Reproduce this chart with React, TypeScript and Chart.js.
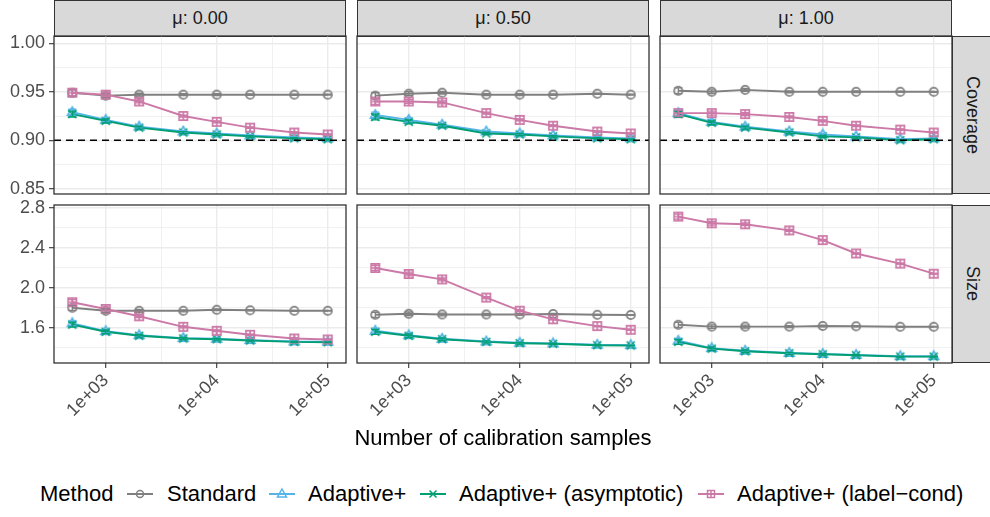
import React, { useEffect, useRef } from 'react';
import { Chart, registerables } from 'chart.js';

Chart.register(...registerables);

// ---------------- data ----------------
const N_CALIB = [500, 1000, 2000, 5000, 10000, 20000, 50000, 100000];
const MU_LABELS = ['μ: 0.00', 'μ: 0.50', 'μ: 1.00'];
const METRIC_LABELS = ['Coverage', 'Size'];
const METHOD_NAMES = ['Standard', 'Adaptive+', 'Adaptive+ (asymptotic)', 'Adaptive+ (label−cond)'];
const LEGEND_TITLE = 'Method';
const X_TITLE = 'Number of calibration samples';

// coverage: one row per mu (0.00, 0.50, 1.00)
const COV_STANDARD = [
  [0.949, 0.946, 0.947, 0.947, 0.947, 0.947, 0.947, 0.947],
  [0.946, 0.948, 0.949, 0.947, 0.947, 0.947, 0.948, 0.947],
  [0.951, 0.950, 0.952, 0.950, 0.950, 0.950, 0.950, 0.950],
];
const COV_ADAPTIVE = [
  [0.929, 0.921, 0.914, 0.909, 0.907, 0.905, 0.903, 0.902],
  [0.926, 0.921, 0.916, 0.909, 0.907, 0.905, 0.903, 0.902],
  [0.928, 0.919, 0.914, 0.909, 0.906, 0.904, 0.901, 0.902],
];
const COV_ASYMPTOTIC = [
  [0.927, 0.920, 0.913, 0.908, 0.906, 0.904, 0.902, 0.901],
  [0.924, 0.919, 0.915, 0.907, 0.906, 0.904, 0.902, 0.901],
  [0.927, 0.918, 0.913, 0.908, 0.904, 0.903, 0.900, 0.901],
];
const COV_LABELCOND = [
  [0.949, 0.947, 0.940, 0.925, 0.919, 0.913, 0.908, 0.906],
  [0.940, 0.940, 0.939, 0.928, 0.921, 0.915, 0.909, 0.907],
  [0.928, 0.928, 0.927, 0.924, 0.920, 0.915, 0.911, 0.908],
];
const COV_ERR = [0.003, 0.002, 0.0015, 0.001, 0.001, 0.0008, 0.0006, 0.0005];

// size: one row per mu
const SIZE_STANDARD = [
  [1.80, 1.77, 1.77, 1.77, 1.78, 1.775, 1.77, 1.77],
  [1.73, 1.74, 1.733, 1.733, 1.733, 1.738, 1.73, 1.728],
  [1.63, 1.612, 1.612, 1.612, 1.618, 1.615, 1.61, 1.61],
];
const SIZE_ADAPTIVE = [
  [1.645, 1.566, 1.526, 1.497, 1.49, 1.477, 1.463, 1.46],
  [1.57, 1.525, 1.49, 1.463, 1.45, 1.444, 1.43, 1.427],
  [1.47, 1.397, 1.37, 1.349, 1.339, 1.329, 1.316, 1.316],
];
const SIZE_ASYMPTOTIC = [
  [1.632, 1.56, 1.52, 1.493, 1.486, 1.473, 1.459, 1.456],
  [1.56, 1.52, 1.486, 1.459, 1.446, 1.44, 1.426, 1.423],
  [1.459, 1.392, 1.365, 1.345, 1.335, 1.325, 1.312, 1.312],
];
const SIZE_LABELCOND = [
  [1.856, 1.788, 1.715, 1.61, 1.57, 1.53, 1.493, 1.483],
  [2.198, 2.138, 2.084, 1.902, 1.771, 1.685, 1.617, 1.58],
  [2.712, 2.645, 2.635, 2.574, 2.477, 2.343, 2.242, 2.141],
];
const SIZE_ERR = [0.025, 0.018, 0.014, 0.01, 0.008, 0.006, 0.005, 0.004];

const COVERAGE_TARGET = 0.9;

// axes
const X_RANGE = [342, 146200];
const X_TICKS = [1000, 10000, 100000];
const X_TICK_LABELS = ['1e+03', '1e+04', '1e+05'];
const X_MINOR = [3162.28, 31622.8];

const COV_RANGE = [0.8446, 1.0075];
const COV_TICKS = [0.85, 0.9, 0.95, 1.0];
const COV_TICK_LABELS = ['0.85', '0.90', '0.95', '1.00'];
const COV_MINOR = [0.875, 0.925, 0.975];

const SIZE_RANGE = [1.248, 2.828];
const SIZE_TICKS = [1.6, 2.0, 2.4, 2.8];
const SIZE_TICK_LABELS = ['1.6', '2.0', '2.4', '2.8'];
const SIZE_MINOR = [1.4, 1.8, 2.2, 2.6];

// ---------------- styles ----------------
const FONT = "'Liberation Sans', Arial, Helvetica, sans-serif";
const METHOD_COLORS = ['#808080', '#56B4E9', '#009E73', '#CC79A7'];
const METHOD_SHAPES = ['circle', 'triangle', 'x', 'squareplus'];
const PANEL_LEFT = [54, 357, 660];
const PANEL_W = 292;
const PANEL_TOP = [36, 205];
const PANEL_H = 158;
const RIGHT_STRIP_LEFT = 952;
const CAP_FACTOR = 1.09;
const TICK_FONT_SIZE = 18;
const STRIP_FONT_SIZE = 18;
const TITLE_FONT_SIZE = 22;

function makeMarker(shape: string, color: string): HTMLCanvasElement {
  const s = 14;
  const c = document.createElement('canvas');
  c.width = s;
  c.height = s;
  const g = c.getContext('2d')!;
  g.strokeStyle = color;
  g.lineWidth = 1.7;
  const m = s / 2;
  g.beginPath();
  if (shape === 'circle') {
    g.arc(m, m, 4.2, 0, Math.PI * 2);
  } else if (shape === 'triangle') {
    g.moveTo(m, m - 5);
    g.lineTo(m + 4.8, m + 3.2);
    g.lineTo(m - 4.8, m + 3.2);
    g.closePath();
  } else if (shape === 'x') {
    g.moveTo(m - 4, m - 4);
    g.lineTo(m + 4, m + 4);
    g.moveTo(m + 4, m - 4);
    g.lineTo(m - 4, m + 4);
  } else {
    g.rect(m - 4.2, m - 4.2, 8.4, 8.4);
    g.moveTo(m, m - 4.2);
    g.lineTo(m, m + 4.2);
    g.moveTo(m - 4.2, m);
    g.lineTo(m + 4.2, m);
  }
  g.stroke();
  return c;
}

const panelDecor = {
  id: 'panelDecor',
  afterDatasetsDraw(chart: any, _args: any, opts: any) {
    const { ctx, chartArea } = chart;
    const xs = chart.scales.x;
    const ys = chart.scales.y;
    ctx.save();
    ctx.beginPath();
    ctx.rect(chartArea.left, chartArea.top, chartArea.right - chartArea.left, chartArea.bottom - chartArea.top);
    ctx.clip();
    chart.data.datasets.forEach((ds: any) => {
      const err = ds.errors;
      if (!err) return;
      ctx.strokeStyle = ds.borderColor;
      ctx.lineWidth = 1.3;
      ds.data.forEach((p: any, i: number) => {
        const px = xs.getPixelForValue(p.x);
        const hw = xs.getPixelForValue(p.x * CAP_FACTOR) - px;
        const y1 = ys.getPixelForValue(p.y - err[i]);
        const y2 = ys.getPixelForValue(p.y + err[i]);
        ctx.beginPath();
        ctx.moveTo(px, y1);
        ctx.lineTo(px, y2);
        ctx.moveTo(px - hw, y1);
        ctx.lineTo(px + hw, y1);
        ctx.moveTo(px - hw, y2);
        ctx.lineTo(px + hw, y2);
        ctx.stroke();
      });
    });
    if (opts && opts.hline != null) {
      const yy = ys.getPixelForValue(opts.hline);
      ctx.strokeStyle = '#000000';
      ctx.lineWidth = 1.7;
      ctx.setLineDash([7, 5]);
      ctx.beginPath();
      ctx.moveTo(chartArea.left, yy);
      ctx.lineTo(chartArea.right, yy);
      ctx.stroke();
      ctx.setLineDash([]);
    }
    ctx.restore();
  },
  afterDraw(chart: any) {
    const { ctx, chartArea } = chart;
    ctx.save();
    ctx.strokeStyle = '#333333';
    ctx.lineWidth = 1.3;
    ctx.strokeRect(chartArea.left, chartArea.top, chartArea.right - chartArea.left, chartArea.bottom - chartArea.top);
    ctx.restore();
  },
};

type PanelGeom = { left: number; top: number; width: number; height: number; yw: number; padTop: number; padRight: number; bottomExtra: number };

function panelGeom(row: number, col: number): PanelGeom {
  const plotL = PANEL_LEFT[col];
  const canvasLeft = col === 0 ? 0 : plotL - 4;
  const yw = plotL - canvasLeft;
  const padTop = 12;
  const padRight = 4;
  const bottomExtra = row === 1 ? 66 : 8;
  return {
    left: canvasLeft,
    top: PANEL_TOP[row] - padTop,
    width: yw + PANEL_W + padRight,
    height: padTop + PANEL_H + bottomExtra,
    yw,
    padTop,
    padRight,
    bottomExtra,
  };
}

const PANELS: { row: number; col: number }[] = [];
for (let r = 0; r < 2; r++) for (let c = 0; c < 3; c++) PANELS.push({ row: r, col: c });

function buildConfig(row: number, col: number, markers: HTMLCanvasElement[]): any {
  const g = panelGeom(row, col);
  const seriesSets = row === 0
    ? [COV_STANDARD, COV_ADAPTIVE, COV_ASYMPTOTIC, COV_LABELCOND]
    : [SIZE_STANDARD, SIZE_ADAPTIVE, SIZE_ASYMPTOTIC, SIZE_LABELCOND];
  const err = row === 0 ? COV_ERR : SIZE_ERR;
  const yRange = row === 0 ? COV_RANGE : SIZE_RANGE;
  const yTicks = row === 0 ? COV_TICKS : SIZE_TICKS;
  const yLabels = row === 0 ? COV_TICK_LABELS : SIZE_TICK_LABELS;
  const yMinor = row === 0 ? COV_MINOR : SIZE_MINOR;
  const showY = col === 0;
  const showX = row === 1;

  const datasets = seriesSets.map((set, m) => ({
    label: METHOD_NAMES[m],
    data: N_CALIB.map((n, i) => ({ x: n, y: set[col][i] })),
    borderColor: METHOD_COLORS[m],
    backgroundColor: METHOD_COLORS[m],
    borderWidth: 1.9,
    pointStyle: markers[m],
    pointRadius: 5,
    tension: 0,
    fill: false,
    order: 3 - m,
    errors: err,
  }));

  const tickFont = { family: FONT, size: TICK_FONT_SIZE };

  return {
    type: 'line',
    data: { datasets },
    plugins: [panelDecor],
    options: {
      animation: false,
      responsive: false,
      devicePixelRatio: 1,
      events: [],
      layout: { autoPadding: false, padding: { top: g.padTop, right: g.padRight, left: 0, bottom: 0 } },
      plugins: {
        legend: { display: false },
        tooltip: { enabled: false },
        panelDecor: { hline: row === 0 ? COVERAGE_TARGET : null },
      },
      scales: {
        x: {
          type: 'logarithmic',
          position: 'bottom',
          min: X_RANGE[0],
          max: X_RANGE[1],
          afterBuildTicks: (s: any) => {
            s.ticks = [...X_TICKS, ...X_MINOR].sort((a, b) => a - b).map((v) => ({ value: v }));
          },
          afterFit: (s: any) => {
            s.height = g.bottomExtra;
            s.paddingLeft = 0;
            s.paddingRight = 0;
          },
          ticks: {
            display: showX,
            autoSkip: false,
            maxRotation: 45,
            minRotation: 45,
            padding: 2,
            color: '#4D4D4D',
            font: tickFont,
            callback: (v: number) => {
              const i = X_TICKS.indexOf(v);
              return i >= 0 ? X_TICK_LABELS[i] : '';
            },
          },
          grid: {
            color: '#EBEBEB',
            lineWidth: (ctx: any) => (X_TICKS.includes(ctx.tick?.value) ? 1.4 : 0.7),
            drawTicks: showX,
            tickLength: 5,
            tickWidth: 1.1,
            tickColor: (ctx: any) => (X_TICKS.includes(ctx.tick?.value) ? '#333333' : 'rgba(0,0,0,0)'),
          },
          border: { display: false },
        },
        y: {
          type: 'linear',
          position: 'left',
          min: yRange[0],
          max: yRange[1],
          afterBuildTicks: (s: any) => {
            s.ticks = [...yTicks, ...yMinor].sort((a, b) => a - b).map((v) => ({ value: v }));
          },
          afterFit: (s: any) => {
            s.width = g.yw;
            s.paddingTop = 0;
            s.paddingBottom = 0;
          },
          ticks: {
            display: showY,
            autoSkip: false,
            padding: 4,
            color: '#4D4D4D',
            font: tickFont,
            callback: (v: number) => {
              const i = yTicks.indexOf(v);
              return i >= 0 ? yLabels[i] : '';
            },
          },
          grid: {
            color: '#EBEBEB',
            lineWidth: (ctx: any) => (yTicks.includes(ctx.tick?.value) ? 1.4 : 0.7),
            drawTicks: showY,
            tickLength: 5,
            tickWidth: 1.1,
            tickColor: (ctx: any) => (yTicks.includes(ctx.tick?.value) ? '#333333' : 'rgba(0,0,0,0)'),
          },
          border: { display: false },
        },
      },
    },
  };
}

function LegendKey({ shape, color }: { shape: string; color: string }) {
  const m = 13;
  const c = 11;
  let marker: React.ReactNode = null;
  if (shape === 'circle') marker = <circle cx={m} cy={c} r={3.5} fill="none" stroke={color} strokeWidth={1.5} />;
  else if (shape === 'triangle')
    marker = <polygon points={`${m},${c - 5} ${m + 4.5},${c + 3} ${m - 4.5},${c + 3}`} fill="none" stroke={color} strokeWidth={1.5} />;
  else if (shape === 'x')
    marker = <path d={`M${m - 3.5},${c - 3.5}L${m + 3.5},${c + 3.5}M${m + 3.5},${c - 3.5}L${m - 3.5},${c + 3.5}`} stroke={color} strokeWidth={1.5} />;
  else
    marker = (
      <g stroke={color} strokeWidth={1.5} fill="none">
        <rect x={m - 3.5} y={c - 3.5} width={7} height={7} />
        <path d={`M${m},${c - 3.5}L${m},${c + 3.5}M${m - 3.5},${c}L${m + 3.5},${c}`} />
      </g>
    );
  return (
    <svg width={26} height={22} style={{ display: 'block' }}>
      <line x1={0} y1={c} x2={26} y2={c} stroke={color} strokeWidth={2} />
      {marker}
    </svg>
  );
}

const LEGEND_TITLE_X = 40;
const LEGEND_KEY_X = [127, 269, 420, 698];
const LEGEND_TEXT_X = [167, 308, 459, 737];

export default function App() {
  const refs = useRef<(HTMLCanvasElement | null)[]>([]);

  useEffect(() => {
    const markers = METHOD_SHAPES.map((s, i) => makeMarker(s, METHOD_COLORS[i]));
    const charts: Chart[] = [];
    PANELS.forEach((p, idx) => {
      const cv = refs.current[idx];
      if (!cv) return;
      charts.push(new Chart(cv, buildConfig(p.row, p.col, markers)));
    });
    return () => charts.forEach((c) => c.destroy());
  }, []);

  const stripStyle: React.CSSProperties = {
    position: 'absolute',
    boxSizing: 'border-box',
    background: '#D9D9D9',
    border: '1.3px solid #333333',
    display: 'flex',
    alignItems: 'center',
    justifyContent: 'center',
    color: '#1A1A1A',
    fontSize: STRIP_FONT_SIZE,
    fontFamily: FONT,
    whiteSpace: 'nowrap',
  };

  const textStyle: React.CSSProperties = {
    position: 'absolute',
    top: 483,
    fontSize: TITLE_FONT_SIZE,
    lineHeight: '22px',
    color: '#000000',
    whiteSpace: 'nowrap',
  };

  return (
    <div style={{ position: 'absolute', left: 0, top: 0, width: 990, height: 517, overflow: 'hidden', background: '#FFFFFF', fontFamily: FONT }}>
      {MU_LABELS.map((lab, c) => (
        <div key={'ts' + c} style={{ ...stripStyle, left: PANEL_LEFT[c], top: 0, width: PANEL_W, height: PANEL_TOP[0] + 1 }}>
          {lab}
        </div>
      ))}
      {METRIC_LABELS.map((lab, r) => (
        <div key={'rs' + r} style={{ ...stripStyle, left: RIGHT_STRIP_LEFT, top: PANEL_TOP[r], width: 40, height: PANEL_H }}>
          <span style={{ writingMode: 'vertical-rl' }}>{lab}</span>
        </div>
      ))}
      {PANELS.map((p, idx) => {
        const g = panelGeom(p.row, p.col);
        return (
          <canvas
            key={'cv' + idx}
            ref={(el) => {
              refs.current[idx] = el;
            }}
            width={g.width}
            height={g.height}
            style={{ position: 'absolute', left: g.left, top: g.top, width: g.width, height: g.height, display: 'block' }}
          />
        );
      })}
      <div style={{ ...textStyle, left: 253, top: 427, width: 500, textAlign: 'center' }}>{X_TITLE}</div>
      <div style={{ ...textStyle, left: LEGEND_TITLE_X }}>{LEGEND_TITLE}</div>
      {METHOD_NAMES.map((name, i) => (
        <React.Fragment key={'lg' + i}>
          <div style={{ position: 'absolute', left: LEGEND_KEY_X[i], top: 483 }}>
            <LegendKey shape={METHOD_SHAPES[i]} color={METHOD_COLORS[i]} />
          </div>
          <div style={{ ...textStyle, left: LEGEND_TEXT_X[i] }}>{name}</div>
        </React.Fragment>
      ))}
    </div>
  );
}
